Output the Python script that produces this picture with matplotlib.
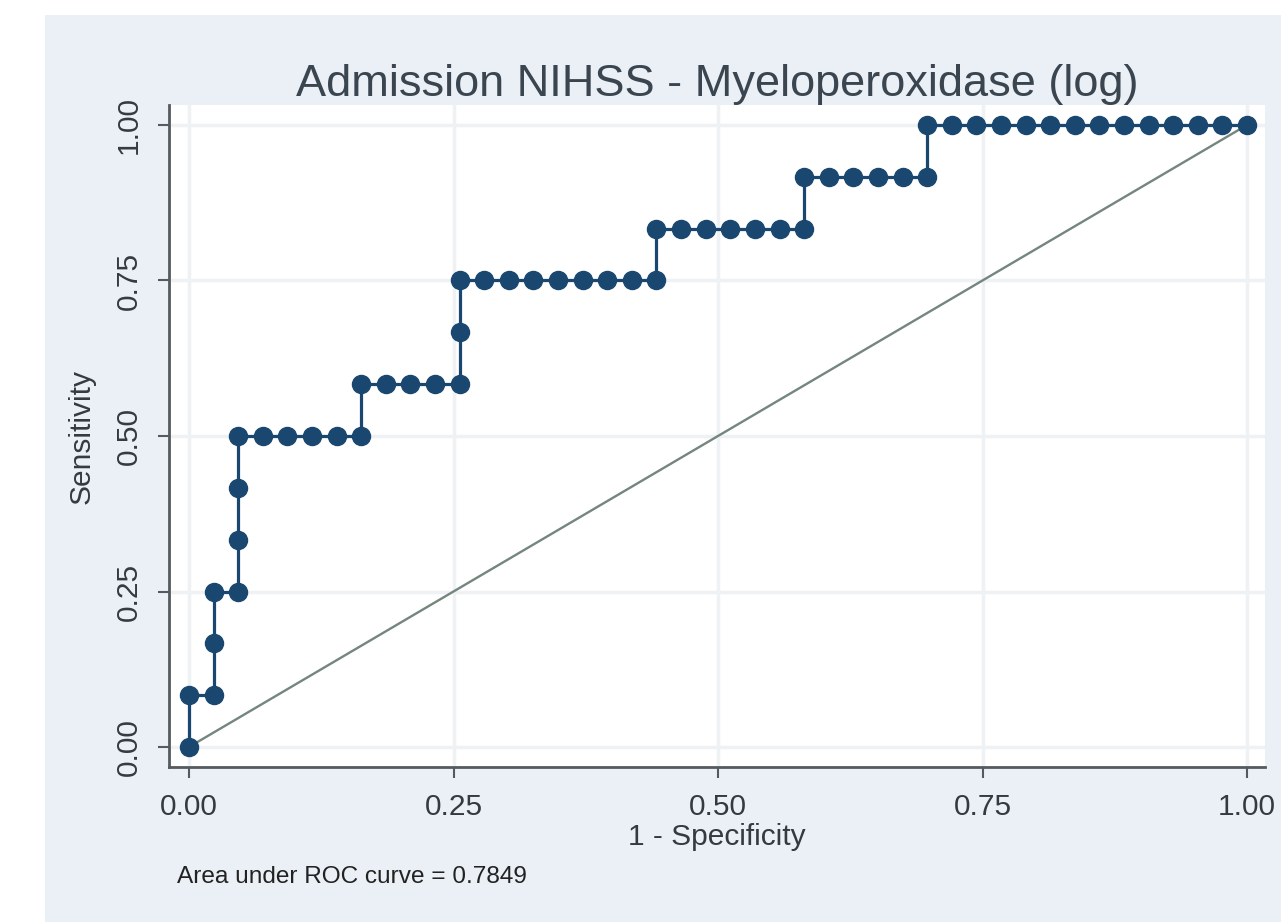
import numpy as np
import matplotlib
matplotlib.use('Agg')
import matplotlib.pyplot as plt
from matplotlib.patches import Rectangle

# ROC-Punkte als Zaehler: falsch Positive (von 43) und richtig Positive (von 12)
n_neg = 43
n_pos = 12
fp_count = [0, 0, 1, 1, 1, 2, 2, 2, 2, 3, 4, 5, 6, 7, 7, 8, 9, 10, 11, 11, 11,
            12, 13, 14, 15, 16, 17, 18, 19, 19, 20, 21, 22, 23, 24, 25, 25,
            26, 27, 28, 29, 30, 30, 31, 32, 33, 34, 35, 36, 37, 38, 39, 40, 41, 42, 43]
tp_count = [0, 1, 1, 2, 3, 3, 4, 5, 6, 6, 6, 6, 6, 6, 7, 7, 7, 7, 7, 8, 9,
            9, 9, 9, 9, 9, 9, 9, 9, 10, 10, 10, 10, 10, 10, 10, 11,
            11, 11, 11, 11, 11, 12, 12, 12, 12, 12, 12, 12, 12, 12, 12, 12, 12, 12, 12]
tick_vals = [0.0, 0.25, 0.5, 0.75, 1.0]
tick_labels = ['0.00', '0.25', '0.50', '0.75', '1.00']
auc_text = 'Area under ROC curve = 0.7849'
title = 'Admission NIHSS - Myeloperoxidase (log)'

fpr = np.array(fp_count) / n_neg
tpr = np.array(tp_count) / n_pos

plt.rcParams['font.family'] = ['Liberation Sans', 'DejaVu Sans']
navy = '#1a476f'
text_col = '#333a40'

fig = plt.figure(figsize=(12.81, 9.22), dpi=100)
fig.patch.set_facecolor('white')
# hellblauer Graph-Hintergrund (Stata s2color)
fig.patches.append(Rectangle((45 / 1281, 0), 1 - 45 / 1281, (922 - 15) / 922,
                             transform=fig.transFigure, facecolor='#eaf0f5',
                             edgecolor='none', zorder=-10))

ax = fig.add_axes([169 / 1281, (922 - 767) / 922, 1096 / 1281, 662 / 922])
ax.set_facecolor('white')
ax.set_xlim((169 - 189) / 1058, (1265 - 189) / 1058)
ax.set_ylim((747 - 767) / 622, (747 - 105) / 622)

ax.grid(True, color='#eef2f5', linewidth=2.5)
ax.set_axisbelow(True)

ax.plot([0, 1], [0, 1], color='#74867d', linewidth=1.7, zorder=2)
ax.plot(fpr, tpr, '-o', color=navy, linewidth=2.3, markersize=13, zorder=3)

for s in ['top', 'right']:
    ax.spines[s].set_visible(False)
for s in ['left', 'bottom']:
    ax.spines[s].set_color('#555a5e')
    ax.spines[s].set_linewidth(2)

ax.set_xticks(tick_vals)
ax.set_xticklabels(tick_labels)
ax.set_yticks(tick_vals)
ax.set_yticklabels(tick_labels, rotation=90, va='center')
ax.tick_params(axis='both', direction='out', length=8, width=1.5, color='#555a5e',
               labelsize=21.5, labelcolor=text_col, pad=11)

ax.set_xlabel('1 - Specificity', fontsize=21.5, color=text_col, labelpad=1)
ax.set_ylabel('Sensitivity', fontsize=21.5, color=text_col, labelpad=14)
ax.set_title(title, fontsize=32.5, color='#3a4550', pad=5)

fig.text(177 / 1281, 1 - 877 / 922, auc_text, fontsize=17.6, color='#222222',
         va='center', ha='left')

fig.savefig('out.png', dpi=100)
